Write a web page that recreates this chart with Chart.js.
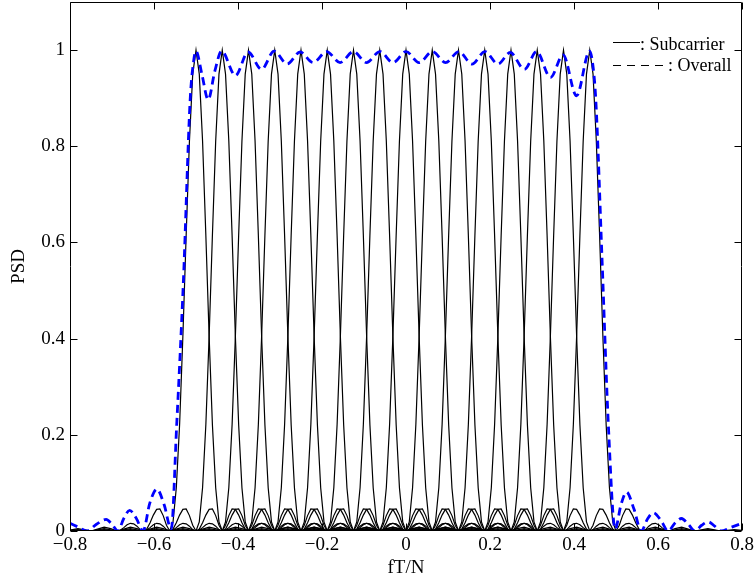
<!DOCTYPE html>
<html>
<head>
<meta charset="utf-8">
<title>PSD</title>
<script src="https://cdn.jsdelivr.net/npm/chart.js@4.4.0/dist/chart.umd.min.js"></script>
<style>
  html, body { margin: 0; padding: 0; background: #fff; }
  #wrap { width: 755px; height: 580px; }
</style>
</head>
<body>
<div id="wrap"><canvas id="psdChart" width="755" height="580"></canvas></div>
<script>
// subcarrier centre frequencies (fT/N)
const carrierCenters = [-0.5, -0.4375, -0.375, -0.3125, -0.25, -0.1875, -0.125, -0.0625,
                        0, 0.0625, 0.125, 0.1875, 0.25, 0.3125, 0.375, 0.4375];
const carrierSpacing = 0.0625;

// one side of a single subcarrier spectrum, offsets in subcarrier spacings
const pulseOffsets = [0, 0.125, 0.25, 0.375, 0.5, 0.625, 0.75, 0.875,
                      1, 1.125, 1.25, 1.375, 1.5, 1.625, 1.75, 1.875,
                      2, 2.125, 2.25, 2.375, 2.5, 2.625, 2.75, 2.875,
                      3, 3.25, 3.5, 3.75, 4, 4.5, 5, 5.5, 6];
const pulseLevels  = [1, 0.950, 0.811, 0.615, 0.405, 0.221, 0.090, 0.019,
                      0, 0.012, 0.032, 0.046, 0.045, 0.033, 0.017, 0.004,
                      0, 0.003, 0.010, 0.015, 0.016, 0.013, 0.007, 0.002,
                      0, 0.005, 0.008, 0.004, 0, 0.005, 0, 0.003, 0];

// overall spectrum
const overallFreq = [-0.8, -0.78, -0.76, -0.737, -0.714, -0.70, -0.686, -0.672, -0.658, -0.642,
                     -0.626, -0.61, -0.593, -0.576, -0.559, -0.546, -0.53, -0.514, -0.506, -0.5,
                     -0.486, -0.471, -0.455, -0.439, -0.406, -0.376, -0.344, -0.314, -0.283, -0.252,
                     -0.221, -0.189, -0.157, -0.125, -0.094, -0.062, -0.031, 0, 0.031, 0.063,
                     0.094, 0.126, 0.157, 0.188, 0.219, 0.248, 0.282, 0.311, 0.344, 0.374,
                     0.406, 0.437, 0.444, 0.452, 0.467, 0.482, 0.498, 0.512, 0.525, 0.543,
                     0.56, 0.575, 0.589, 0.607, 0.624, 0.64, 0.656, 0.672, 0.688, 0.704,
                     0.72, 0.735, 0.75, 0.775, 0.8];
const overallPsd  = [0.016, 0.008, 0.0, 0.014, 0.024, 0.014, 0.0, 0.026, 0.043, 0.026,
                     0.0, 0.058, 0.087, 0.055, 0.004, 0.22, 0.52, 0.895, 0.975, 0.998,
                     0.95, 0.897, 0.957, 0.998, 0.947, 0.996, 0.960, 0.998, 0.971, 0.996,
                     0.974, 0.997, 0.974, 0.997, 0.974, 0.997, 0.974, 0.997, 0.974, 0.997,
                     0.974, 0.997, 0.971, 0.997, 0.971, 0.995, 0.960, 0.997, 0.943, 0.990,
                     0.905, 0.998, 0.975, 0.895, 0.56, 0.217, 0.004, 0.055, 0.081, 0.045,
                     0.0, 0.025, 0.038, 0.022, 0.0, 0.016, 0.026, 0.014, 0.0, 0.012,
                     0.019, 0.010, 0.0, 0.008, 0.016];

const xTicks = [-0.8, -0.6, -0.4, -0.2, 0, 0.2, 0.4, 0.6, 0.8];
const yTicks = [0, 0.2, 0.4, 0.6, 0.8, 1];

const serif = 'Liberation Serif';

function carrierPoints(center) {
  const pts = [];
  for (let i = pulseOffsets.length - 1; i > 0; i--) {
    pts.push({ x: center - pulseOffsets[i] * carrierSpacing, y: pulseLevels[i] });
  }
  for (let i = 0; i < pulseOffsets.length; i++) {
    pts.push({ x: center + pulseOffsets[i] * carrierSpacing, y: pulseLevels[i] });
  }
  return pts;
}

const datasets = carrierCenters.map(c => ({
  label: 'Subcarrier',
  data: carrierPoints(c),
  borderColor: '#000',
  borderWidth: 1.2,
  pointRadius: 0,
  tension: 0,
  fill: false,
  order: 1
}));

datasets.push({
  label: 'Overall',
  data: overallFreq.map((f, i) => ({ x: f, y: overallPsd[i] })),
  borderColor: '#0000ff',
  borderWidth: 2.8,
  borderDash: [8, 5],
  pointRadius: 0,
  cubicInterpolationMode: 'monotone',
  fill: false,
  order: 0
});

function fmt(v) {
  return String(Math.round(v * 10) / 10).replace('-', '\u2212');
}

// box around the plot, inward tick marks and the text legend
const frameTicks = {
  id: 'frameTicks',
  afterDatasetsDraw(chart) {
    const { ctx, chartArea: a, scales: { x, y } } = chart;
    const L = Math.round(a.left) + 0.5, R = Math.round(a.right) - 0.5;
    const T = Math.round(a.top) + 0.5, B = Math.round(a.bottom) - 0.5;
    ctx.save();
    ctx.strokeStyle = '#000';
    ctx.lineWidth = 1;
    ctx.beginPath();
    ctx.rect(L, T, R - L, B - T);
    xTicks.forEach(v => {
      const px = Math.round(x.getPixelForValue(v)) + 0.5;
      ctx.moveTo(px, B); ctx.lineTo(px, B - 7);
      ctx.moveTo(px, T); ctx.lineTo(px, T + 7);
    });
    yTicks.forEach(v => {
      const py = Math.round(y.getPixelForValue(v)) + 0.5;
      ctx.moveTo(L, py); ctx.lineTo(L + 7, py);
      ctx.moveTo(R, py); ctx.lineTo(R - 7, py);
    });
    ctx.stroke();

    // legend
    ctx.beginPath();
    ctx.moveTo(613, 42.5); ctx.lineTo(640, 42.5);
    ctx.stroke();
    ctx.setLineDash([8, 6]);
    ctx.beginPath();
    ctx.moveTo(613, 65.5); ctx.lineTo(668, 65.5);
    ctx.stroke();
    ctx.setLineDash([]);
    ctx.fillStyle = '#000';
    ctx.font = '18px "' + serif + '"';
    ctx.textBaseline = 'alphabetic';
    ctx.textAlign = 'left';
    ctx.fillText(': Subcarrier', 640, 50);
    ctx.fillText(': Overall', 668, 70.5);
    ctx.restore();
  }
};

new Chart(document.getElementById('psdChart'), {
  type: 'line',
  data: { datasets: datasets },
  plugins: [frameTicks],
  options: {
    responsive: false,
    animation: false,
    events: [],
    layout: { padding: { left: 0, right: 13, top: 2, bottom: 0 } },
    plugins: {
      legend: { display: false },
      tooltip: { enabled: false }
    },
    scales: {
      x: {
        type: 'linear',
        min: -0.8,
        max: 0.8,
        afterBuildTicks: s => { s.ticks = xTicks.map(v => ({ value: v })); },
        afterFit: s => { s.height = 49; s.paddingLeft = 0; s.paddingRight = 0; },
        grid: { display: false, drawTicks: false },
        border: { display: false },
        ticks: {
          color: '#000',
          font: { family: serif, size: 19 },
          padding: 3,
          maxRotation: 0,
          autoSkip: false,
          callback: v => fmt(v)
        },
        title: {
          display: true,
          text: 'fT/N',
          color: '#000',
          font: { family: serif, size: 19 },
          padding: { top: 0, bottom: 1 }
        }
      },
      y: {
        type: 'linear',
        min: 0,
        max: 1.1,
        afterBuildTicks: s => { s.ticks = yTicks.map(v => ({ value: v })); },
        afterFit: s => { s.width = 70; s.paddingTop = 0; s.paddingBottom = 0; },
        grid: { display: false, drawTicks: false },
        border: { display: false },
        ticks: {
          color: '#000',
          font: { family: serif, size: 19 },
          padding: 5,
          callback: v => fmt(v)
        },
        title: {
          display: true,
          text: 'PSD',
          color: '#000',
          font: { family: serif, size: 19 },
          padding: { top: 8, bottom: 0 }
        }
      }
    }
  }
});
</script>
</body>
</html>
